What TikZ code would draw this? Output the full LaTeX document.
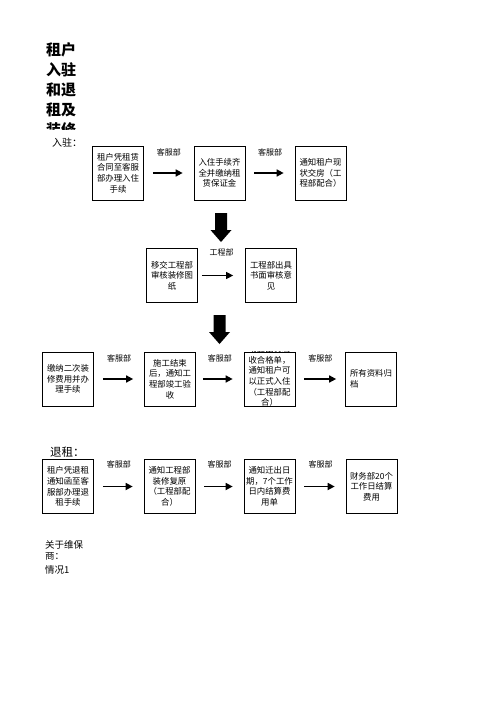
\documentclass[tikz,border=0pt]{standalone}
\usepackage{fontspec}
\newfontfamily\cjk{Noto Sans CJK SC}
\usetikzlibrary{arrows.meta}

\begin{document}
\begin{tikzpicture}[x=1pt, y=-1pt, font=\cjk,
	box/.style={draw, line width=0.7pt, minimum width=51pt, minimum height=54pt, inner sep=1pt, align=center, font=\cjk\fontsize{8.4}{10.6}\selectfont},
	dept/.style={font=\cjk\fontsize{8}{9}\selectfont, inner sep=0pt},
	plain/.style={anchor=base west, inner sep=0pt, font=\cjk\fontsize{9.5}{11}\selectfont},
	flow/.style={line width=1.6pt, -{Triangle[length=7pt,width=7pt]}, shorten <=9pt, shorten >=11pt}]
	\useasboundingbox[fill=white] (0,0) rectangle (500,707);

	% title, cut off by its cell
	\begin{scope}
		\clip (40,41) rectangle (100,129);
		\foreach \t [count=\i] in {租户,入驻,和退,租及,装修}
			\node[anchor=base west, inner sep=0pt, font=\cjk\bfseries\fontsize{15}{15}\selectfont] (title\i) at (46,35+20*\i) {\t};
	\end{scope}
	\node[plain, font=\cjk\fontsize{10}{11}\selectfont] (ruzhu) at (52,146) {入驻：};

	\node[box] (apply) at (118,173) {租户凭租赁\\合同至客服\\部办理入住\\手续};
	\node[box] (deposit) at (219.5,173) {入住手续齐\\全并缴纳租\\赁保证金};
	\node[box, align=left] (handover) at (320.5,173) {通知租户现\\状交房（工\\程部配合）};

	\draw[flow] (apply) to node [dept, above=16pt] {客服部} (deposit);
	\draw[flow] (deposit) to node [dept, above=16pt] {客服部} (handover);

	% block arrows down
	\foreach \x/\y in {221/213, 219.5/315}
		\fill (\x-6,\y) -- (\x+6,\y) -- (\x+6,\y+17) -- (\x+10.5,\y+17) -- (\x,\y+29) -- (\x-10.5,\y+17) -- (\x-6,\y+17) -- cycle;

	\node[box] (drawings) at (172,275.5) {移交工程部\\审核装修图\\纸};
	\node[box] (review) at (271,275.5) {工程部出具\\书面审核意\\见};

	\draw[flow, line width=1.1pt, shorten <=4pt, shorten >=12pt] (drawings) to node [dept, above=19pt] {工程部} (review);

	\node[box] (fee) at (68,379) {缴纳二次装\\修费用并办\\理手续};
	\node[box] (finish) at (170,379) {施工结束\\后，通知工\\程部竣工验\\收};
	\node[box] (accept) at (269.5,379) {};
	\begin{scope}
		\clip (accept.north west) rectangle (accept.south east);
		\node[box, draw=none] (accepttext) at (269.5,376) {书面出具验\\收合格单，\\通知租户可\\以正式入住\\（工程部配\\合）};
	\end{scope}
	\node[box, align=left] (archive) at (371,379) {所有资料归\\档};

	\draw[flow] (fee) to node [dept, above=16pt] {客服部} (finish);
	\draw[flow, shorten <=7pt] (finish) to node [dept, above=16pt] {客服部} (accept);
	\draw[flow, shorten >=9pt] (accept) to node [dept, above=16pt] {客服部} (archive);

	\node[plain, font=\cjk\fontsize{11.5}{12}\selectfont] (tuizu) at (50,456) {退租：};

	\node[box] (notice) at (68,486.5) {租户凭退租\\通知函至客\\服部办理退\\租手续};
	\node[box] (restore) at (169.5,486.5) {通知工程部\\装修复原\\（工程部配\\合）};
	\node[box] (moveout) at (269.5,486.5) {通知迁出日\\期，7个工作\\日内结算费\\用单};
	\node[box] (settle) at (371.5,486.5) {财务部20个\\工作日结算\\费用};

	\draw[flow] (notice) to node [dept, above=18pt] {客服部} (restore);
	\draw[flow] (restore) to node [dept, above=18pt] {客服部} (moveout);
	\draw[flow] (moveout) to node [dept, above=18pt] {客服部} (settle);

	\node[plain] (maint) at (45,548) {关于维保};
	\begin{scope}
		\clip (40,552) rectangle (100,562);
		\node[plain] (maintb) at (45,559.5) {商：};
	\end{scope}
	\node[plain] (case) at (45,573) {情况1};
\end{tikzpicture}
\end{document}
